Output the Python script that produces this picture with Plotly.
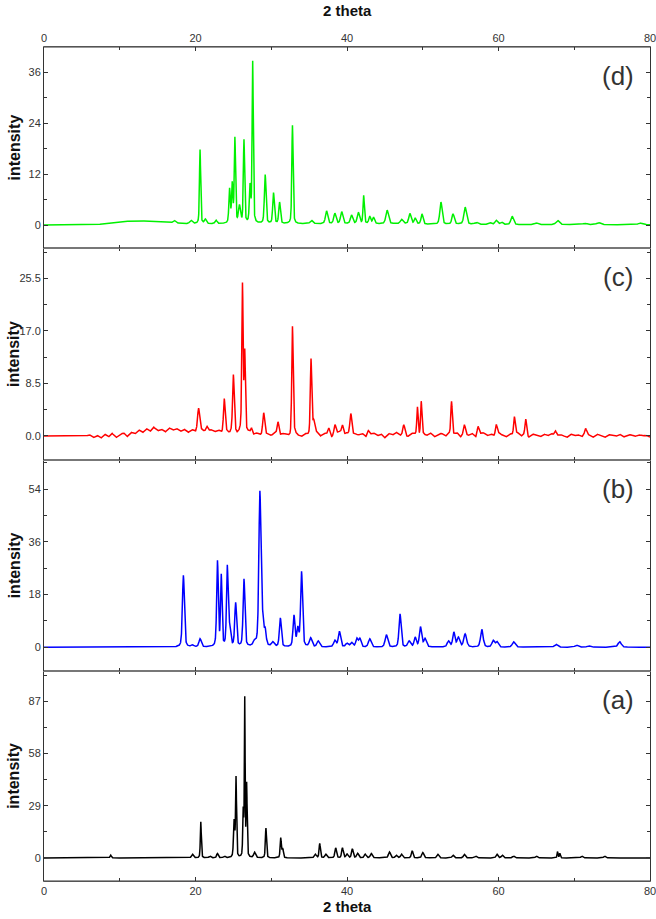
import numpy as np
import plotly.graph_objects as go

# ---------------- data ----------------
X_MIN, X_MAX = 0, 80

# (d) green
d_pos = [17.2, 19.4, 20.6, 21.3, 22.7, 24.5, 24.85, 25.2, 25.8, 26.4, 27.2, 27.55, 29.2, 30.3, 31.1, 32.8,
         35.3, 37.3, 38.4, 39.3, 40.6, 41.5, 42.2, 43.0, 43.5, 45.3, 47.2, 48.3, 49.0, 49.9, 52.4, 54.0,
         55.6, 57.1, 58.8, 59.7, 60.4, 61.8, 65.0, 67.8, 71.4, 73.2, 78.7]
d_hgt = [0.6, 0.8, 17.5, 1.0, 0.8, 8.0, 9.0, 20.0, 4.0, 19.6, 8.5, 38.0, 11.5, 7.2, 5.0, 23.2,
         0.8, 3.0, 2.4, 2.8, 2.0, 2.6, 6.6, 1.7, 1.5, 3.2, 1.0, 2.4, 1.3, 2.4, 5.2, 2.4,
         4.0, 0.4, 0.5, 1.0, 0.6, 2.0, 0.4, 1.0, 0.3, 0.5, 0.4]
d_wid = [0.4, 0.4, 0.18, 0.3, 0.3, 0.22, 0.2, 0.2, 0.3, 0.2, 0.22, 0.18, 0.25, 0.25, 0.25, 0.2,
         0.4, 0.35, 0.35, 0.35, 0.35, 0.35, 0.2, 0.3, 0.3, 0.4, 0.4, 0.35, 0.3, 0.3, 0.35, 0.35,
         0.4, 0.5, 0.5, 0.4, 0.4, 0.4, 0.5, 0.5, 0.6, 0.6, 0.6]
d_base = [0, 0, 0, 0, 0, 0, 0, 0.1, 0.3, 0.6, 0.8, 0.9, 1.0, 1.0, 0.9, 0.8, 0.6, 0.5, 0.4, 0.3,
          0.3, 0.3, 0.3, 0.3, 0.3, 0.3, 0.3, 0.3, 0.3, 0.3, 0.3, 0.3, 0.3, 0.3, 0.3, 0.3, 0.3, 0.3,
          0.3, 0.3, 0.3, 0.3, 0.3, 0.3, 0.3, 0.3, 0.3, 0.3, 0.3, 0.3, 0.2, 0.2, 0.2, 0.2, 0.2, 0.2,
          0.2, 0.2, 0.1, 0.1, 0.1, 0.1, 0.1, 0.1, 0.1, 0.1, 0.1, 0.1, 0.1, 0.1, 0.1, 0.1, 0.1, 0.1,
          0.1, 0.1, 0.1, 0.1, 0.1, 0.1, 0.1]

# (c) red
c_pos = [20.4, 21.5, 23.8, 25.0, 26.2, 26.5, 27.4, 29.0, 30.9, 32.8, 35.25, 35.6, 37.6, 38.4, 39.4,
         40.5, 42.8, 47.5, 49.3, 49.8, 53.8, 55.5, 57.3, 59.7, 62.1, 63.6, 67.5, 71.5]
c_hgt = [3.4, 1.0, 5.4, 9.0, 23.8, 13.0, 1.2, 4.0, 2.3, 17.6, 12.3, 2.0, 1.2, 1.6, 1.6,
         3.8, 0.8, 1.5, 4.6, 5.4, 5.4, 1.5, 1.5, 1.8, 3.0, 2.6, 1.0, 0.8]
c_wid = [0.3, 0.3, 0.25, 0.25, 0.2, 0.2, 0.3, 0.3, 0.3, 0.22, 0.22, 0.3, 0.3, 0.3, 0.3,
         0.3, 0.3, 0.3, 0.2, 0.2, 0.22, 0.3, 0.3, 0.3, 0.25, 0.25, 0.3, 0.3]
c_base = [0, 0, 0, 0, 0, 0, 0, 0, 0, 0, 0.05, -0.05,
          0.2, -0.3, 0.1, -0.4, 0.3, -0.2, 0.4, -0.3, 0.2, 0.5, -0.1, 0.6,
          0.3, 1.0, 0.5, 1.2, 0.7, 1.4, 0.8, 1.1, 0.6, 1.3, 0.9, 1.2,
          0.7, 1.1, 0.5, 1.0, 0.6, 1.2, 0.8, 0.5, 1.0, 0.6, 0.9, 0.4,
          0.7, 0.3, 0.8, 0.2, 0.6, 0.1, 0.5, -0.2, 0.4, 0.1, -0.3, 0.3,
          0.0, 0.4, -0.2, 0.3, 0.1, -0.3, 0.4, 0.0, -0.2, 0.3, -0.1, 0.2,
          0.5, -0.1, 0.4, 0.1, -0.3, 0.3, 0.6, 0.0, 0.4, -0.2, 0.3, 0.1,
          0.4, -0.2, 0.2, 0.5, 0.0, 0.3, -0.3, 0.4, 0.1, 0.6, 0.0, 0.3,
          -0.2, 0.4, 0.2, -0.1, 0.3, 0.0, 0.5, -0.2, 0.2, 0.4, -0.1, 0.3,
          0.1, 0.5, -0.2, 0.3, 0.0, 0.4, -0.3, 0.2, 0.5, 0.0, 0.3, -0.2,
          0.4, 0.1, -0.2, 0.3, 0.0, 0.5, -0.1, 0.2, -0.3, 0.3, 0.1, -0.2,
          0.3, 0.0, 0.4, -0.2, 0.2, 0.1, -0.3, 0.3, 0.0, 0.2, -0.2, 0.4,
          0.1, -0.2, 0.3, 0.0, -0.3, 0.2, 0.1, -0.1, 0.3, -0.2, 0.1, 0.2,
          -0.1, 0.2, 0.0, 0.1, -0.2]

# (b) blue
b_pos = [18.4, 19.6, 20.6, 22.9, 23.4, 24.2, 24.5, 25.3, 26.4, 27.8, 28.5, 28.85, 29.2, 30.2, 31.2,
         33.0, 33.5, 34.0, 35.2, 36.2, 38.4, 39.0, 40.0, 40.6, 41.3, 41.7, 43.0, 45.2, 47.0, 48.2,
         49.0, 49.7, 50.3, 53.4, 54.1, 54.7, 55.6, 57.8, 59.3, 59.8, 62.0, 67.6, 70.3, 71.9, 76.0]
b_hgt = [24.5, 0.6, 2.8, 29.0, 24.0, 27.0, 6.0, 14.8, 23.0, 1.5, 52.5, 8.0, 5.0, 1.5, 9.8,
         10.5, 6.0, 25.5, 3.0, 2.0, 2.2, 5.3, 1.2, 1.5, 2.8, 2.8, 2.8, 4.2, 11.3, 2.0,
         3.2, 6.8, 2.8, 2.0, 5.0, 3.2, 4.4, 6.0, 2.2, 1.8, 1.8, 1.0, 0.7, 0.5, 1.9]
b_wid = [0.3, 0.4, 0.35, 0.25, 0.22, 0.25, 0.3, 0.28, 0.28, 0.4, 0.32, 0.3, 0.3, 0.4, 0.3,
         0.3, 0.3, 0.3, 0.4, 0.4, 0.4, 0.35, 0.4, 0.4, 0.35, 0.35, 0.4, 0.4, 0.32, 0.4,
         0.35, 0.35, 0.4, 0.4, 0.35, 0.4, 0.45, 0.4, 0.4, 0.4, 0.45, 0.5, 0.5, 0.5, 0.5]

# (a) black
a_pos = [8.8, 19.6, 20.7, 21.9, 22.9, 23.8, 25.1, 25.35, 26.3, 26.5, 26.75, 27.8, 29.3, 31.25, 31.5,
         35.8, 36.4, 37.2, 38.5, 39.4, 40.0, 40.7, 41.4, 42.4, 43.2, 45.6, 46.5, 47.2, 48.6, 50.0,
         52.0, 54.0, 55.5, 57.0, 59.8, 60.5, 62.0, 65.0, 67.8, 68.1, 71.0, 74.0]
a_hgt = [1.5, 2.0, 20.0, 1.0, 2.4, 1.0, 20.0, 44.0, 25.0, 87.0, 40.0, 3.0, 16.5, 11.0, 5.0,
         2.0, 8.0, 2.0, 5.5, 5.5, 2.0, 5.0, 2.5, 2.0, 2.4, 3.3, 1.5, 2.0, 4.0, 3.0,
         2.0, 1.5, 2.0, 1.0, 2.0, 1.5, 1.0, 1.0, 3.5, 2.5, 1.0, 1.0]
a_wid = [0.2, 0.3, 0.15, 0.3, 0.25, 0.3, 0.2, 0.15, 0.15, 0.12, 0.15, 0.3, 0.18, 0.18, 0.2,
         0.3, 0.2, 0.3, 0.25, 0.25, 0.3, 0.25, 0.3, 0.3, 0.3, 0.3, 0.3, 0.3, 0.25, 0.3,
         0.3, 0.3, 0.3, 0.3, 0.3, 0.3, 0.3, 0.3, 0.15, 0.15, 0.3, 0.3]

panel_labels = ["(a)", "(b)", "(c)", "(d)"]
colors = ["#000000", "#0000ff", "#ff0000", "#00f000"]
y_ranges = [[-12.8, 104.0], [-8.0, 63.9], [-3.9, 30.4], [-5.4, 42.0]]
y_dticks = [29, 18, 8.5, 12]
y_formats = ["d", "d", ".1f", "d"]
domains = [[0.0, 0.2522], [0.2522, 0.5048], [0.5048, 0.759], [0.759, 1.0]]

# ---------------- build curves ----------------
x = np.linspace(X_MIN, X_MAX, 8001)


def pattern(pos, hgt, wid, base=None, base_step=1.0):
    y = np.zeros_like(x)
    if base is not None:
        bx = np.arange(len(base)) * base_step
        y += np.interp(x, bx, base)
    for p, h, w in zip(pos, hgt, wid):
        g = np.exp(-4 * np.log(2) * ((x - p) / w) ** 2)
        l = 1.0 / (1.0 + ((x - p) / (w / 2)) ** 2)
        y += h * (0.6 * g + 0.4 * l)
    return y


curves = [
    pattern(a_pos, a_hgt, a_wid),
    pattern(b_pos, b_hgt, b_wid),
    pattern(c_pos, c_hgt, c_wid, c_base, 0.5),
    pattern(d_pos, d_hgt, d_wid, d_base, 1.0),
]

fig = go.Figure()
FONT = "Liberation Sans, Arial, sans-serif"
axis_font = dict(family=FONT, size=11, color="#333333")

for i in range(4):
    sfx = "" if i == 0 else str(i + 1)
    fig.add_trace(go.Scatter(x=x, y=curves[i], mode="lines",
                             line=dict(color=colors[i], width=1.5),
                             xaxis="x" + sfx, yaxis="y" + sfx, showlegend=False,
                             hoverinfo="skip"))
    xa = dict(range=[X_MIN, X_MAX], dtick=20, tick0=0, ticks="inside", ticklen=4,
              tickcolor="#333333", showline=True, linecolor="#777777", linewidth=1,
              mirror="ticks", showgrid=False, zeroline=False, anchor="y" + sfx,
              minor=dict(dtick=10, ticks="inside", ticklen=3, tickcolor="#333333"),
              tickfont=axis_font, domain=[0, 1], ticklabeloverflow="allow",
              automargin=False)
    if i == 0:
        xa["showticklabels"] = True
        xa["side"] = "bottom"
    elif i == 3:
        xa["showticklabels"] = True
        xa["side"] = "top"
        xa["matches"] = "x"
    else:
        xa["showticklabels"] = False
        xa["matches"] = "x"
    ya = dict(range=y_ranges[i], dtick=y_dticks[i], tick0=0, tickformat=y_formats[i],
              ticks="inside", ticklen=4, tickcolor="#333333", showline=True,
              linecolor="#333333", linewidth=1, mirror="ticks", showgrid=False,
              zeroline=False, domain=domains[i], anchor="x" + sfx, automargin=False,
              minor=dict(dtick=y_dticks[i] / 2, ticks="inside", ticklen=3, tickcolor="#333333"),
              tickfont=axis_font)
    fig.update_layout({"xaxis" + sfx: xa, "yaxis" + sfx: ya})

    mid = (domains[i][0] + domains[i][1]) / 2
    fig.add_annotation(text="intensity", textangle=-90, xref="paper", yref="paper",
                       x=0, y=mid, xshift=-30, xanchor="center", yanchor="middle",
                       showarrow=False,
                       font=dict(family=FONT, size=16, color="#111111", weight="bold"))
    fig.add_annotation(text=panel_labels[i], xref="paper", yref="paper",
                       x=0.947, y=domains[i][1], yshift=-29, xanchor="center",
                       yanchor="middle", showarrow=False,
                       font=dict(family=FONT, size=26, color="#333333"))

for ypos, ysh in [(1.0, 37), (0.0, -25)]:
    fig.add_annotation(text="2 theta", xref="paper", yref="paper", x=0.5, y=ypos,
                       yshift=ysh, xanchor="center", yanchor="middle", showarrow=False,
                       font=dict(family=FONT, size=15, color="#111111", weight="bold"))

fig.add_shape(type="line", xref="paper", yref="paper", x0=0, x1=1, y0=1, y1=1,
              line=dict(color="#333333", width=1))
fig.add_shape(type="line", xref="paper", yref="paper", x0=0, x1=1, y0=0, y1=0,
              line=dict(color="#333333", width=1))

fig.update_layout(width=656, height=919, margin=dict(l=44, r=6, t=47, b=38),
                  paper_bgcolor="white", plot_bgcolor="white")

fig.write_html("out.html")
